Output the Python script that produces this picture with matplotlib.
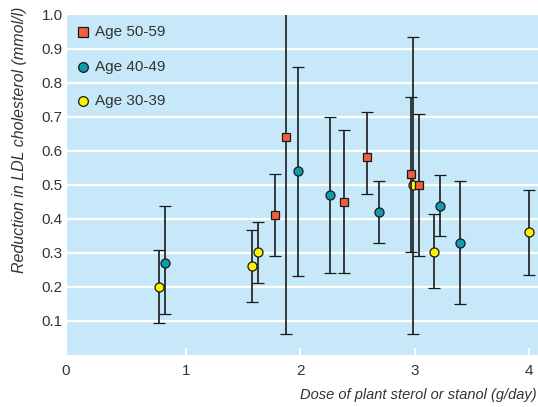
import matplotlib
matplotlib.use("Agg")
import matplotlib.pyplot as plt
import matplotlib.transforms as mtransforms
from matplotlib import font_manager

fams = {f.name for f in font_manager.fontManager.ttflist}
narrow = 'Liberation Sans Narrow' if 'Liberation Sans Narrow' in fams else 'Liberation Sans'
plt.rcParams['font.family'] = [narrow, 'DejaVu Sans']

# Age 50-59
x50 = [1.78, 1.88, 2.38, 2.585, 2.973, 3.043]
y50 = [0.41, 0.64, 0.45, 0.583, 0.531, 0.50]
lo50 = [0.29, 0.061, 0.24, 0.472, 0.303, 0.29]
hi50 = [0.531, 1.22, 0.66, 0.714, 0.758, 0.709]
# Age 40-49
x40 = [0.813, 1.981, 2.258, 2.687, 3.227, 3.399]
y40 = [0.27, 0.541, 0.47, 0.421, 0.439, 0.33]
lo40 = [0.12, 0.232, 0.241, 0.33, 0.349, 0.149]
hi40 = [0.439, 0.848, 0.699, 0.51, 0.53, 0.51]
# Age 30-39
x30 = [0.761, 1.578, 1.63, 2.99, 3.172, 4.0]
y30 = [0.20, 0.261, 0.301, 0.50, 0.301, 0.36]
lo30 = [0.094, 0.155, 0.212, 0.061, 0.196, 0.233]
hi30 = [0.307, 0.367, 0.389, 0.936, 0.415, 0.484]

labels = ['Age 50-59', 'Age 40-49', 'Age 30-39']
colors = ['#f0603f', '#0f9aad', '#fff200']
markers = ['s', 'o', 'o']
xticks = [0, 1, 2, 3, 4]
yticks = [0.1, 0.2, 0.3, 0.4, 0.5, 0.6, 0.7, 0.8, 0.9, 1.0]

fig = plt.figure(figsize=(5.38, 4.07), dpi=100)
ax = fig.add_axes([67/538, (407-354.6)/407, 471/538, 339.6/407])
ax.set_facecolor('#c6e8f8')
for s in ax.spines.values():
    s.set_visible(False)
ax.set_xlim(-0.04, 4.08)
ax.set_ylim(0, 1.0)

for yv in yticks[:-1]:
    ax.axhline(yv, color='white', lw=1.6, zorder=1)

series = [(x30, y30, lo30, hi30, 2), (x40, y40, lo40, hi40, 1), (x50, y50, lo50, hi50, 0)]
for xs, ys, lo, hi, i in series:
    yerr = [[y - l for y, l in zip(ys, lo)], [h - y for y, h in zip(ys, hi)]]
    ax.errorbar(xs, ys, yerr=yerr, fmt=markers[i], color='#1a1a1a', ecolor='#1a1a1a',
                elinewidth=1.2, capsize=4, capthick=1.2, markersize=6.5 if i else 6,
                markerfacecolor=colors[i], markeredgecolor='#1a1a1a', markeredgewidth=0.9,
                zorder=3 + (2 - i))

ax.set_xticks(xticks)
ax.set_xticklabels([str(t) for t in xticks])
ax.set_yticks(yticks)
ax.set_yticklabels([f'{t:.1f}' for t in yticks])
ax.tick_params(axis='x', direction='in', color='white', length=5, width=1.5,
               labelsize=11, labelcolor='#333333', pad=6.5)
ax.tick_params(axis='y', length=0, labelsize=11, labelcolor='#333333', pad=3)
ax.xaxis.get_major_ticks()[0].tick1line.set_visible(False)
# shift the "0" label slightly left as in the reference
lab0 = ax.get_xticklabels()[0]
lab0.set_transform(lab0.get_transform() + mtransforms.ScaledTranslation(-6/100, 0, fig.dpi_scale_trans))

fig.text(20/538, (407-140)/407, 'Reduction in LDL cholesterol (mmol/l)', fontsize=11.5,
         style='italic', color='#333333', rotation=90, ha='center', va='center')
fig.text(0.998, (407-395)/407, 'Dose of plant sterol or stanol (g/day)', fontsize=10.5,
         style='italic', color='#333333', ha='right', va='center')

ly = [0.95, 0.847, 0.747]
for i in range(3):
    ax.plot([0.034], [ly[i]], marker=markers[i], transform=ax.transAxes, markersize=7,
            markerfacecolor=colors[i], markeredgecolor='#1a1a1a', markeredgewidth=0.9,
            zorder=6, clip_on=False)
    ax.text(0.06, ly[i], labels[i], transform=ax.transAxes, fontsize=11,
            color='#333333', va='center', ha='left')

fig.savefig('out.png', dpi=100)
